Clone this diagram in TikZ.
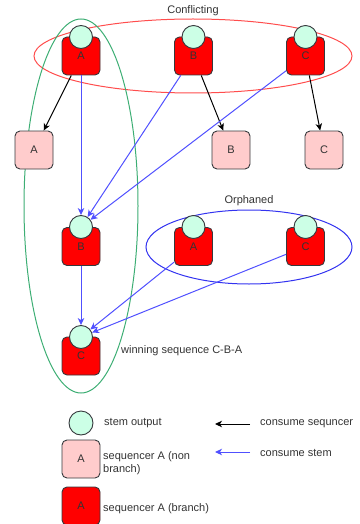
\documentclass[tikz,border=0pt]{standalone}
\usepackage{fontspec}
\setmainfont{Liberation Sans}
\usetikzlibrary{arrows.meta}
\definecolor{redfill}{HTML}{FF0000}
\definecolor{pinkfill}{HTML}{FFCCCC}
\definecolor{mint}{HTML}{CCFFE6}
\definecolor{strokec}{HTML}{36393D}
\definecolor{redell}{HTML}{FF4D4D}
\definecolor{greenell}{HTML}{3DAE74}
\definecolor{bluearr}{HTML}{5050FF}
\definecolor{blueell}{HTML}{3333F0}
\definecolor{txt}{HTML}{333333}
\tikzset{
  base/.style={font=\fontsize{11}{13}\selectfont, text=txt},
  branchbox/.style={base, draw=strokec, fill=redfill, rounded corners=5pt, minimum width=38pt, minimum height=38pt, inner sep=0pt, line width=0.9pt},
  plainbox/.style={base, draw=strokec, fill=pinkfill, rounded corners=5pt, minimum width=38pt, minimum height=38pt, inner sep=0pt, line width=0.9pt},
  stem/.style={circle, draw=strokec, fill=mint, minimum size=23pt, inner sep=0pt, line width=0.9pt},
  lbl/.style={base, inner sep=0pt},
  seqarr/.style={draw=black, line width=1pt, -{Stealth[length=7pt,width=6.5pt,inset=2pt]}},
  stemarr/.style={draw=bluearr, line width=1pt, -{Stealth[length=7pt,width=6.5pt,inset=2pt]}},
  grp/.style={line width=1pt}
}
\begin{document}
\begin{tikzpicture}[x=1pt,y=-1pt]
\useasboundingbox (0,0) rectangle (359,524);
% group ellipses
\draw[grp, draw=redell] (193,56) ellipse [x radius=159, y radius=37];
\draw[grp, draw=greenell] (81,206) ellipse [x radius=57, y radius=187];
\draw[grp, draw=blueell] (249,247) ellipse [x radius=103, y radius=37];
\node[lbl] (conf) at (193,11) {Conflicting};
\node[lbl] (orph) at (249,201) {Orphaned};
% top row
\node[branchbox] (tA) at (81,56) {A};
\node[branchbox] (tB) at (193.5,56) {B};
\node[branchbox] (tC) at (305.5,56) {C};
\node[stem] (tAc) at (81,37) {};
\node[stem] (tBc) at (193.5,37) {};
\node[stem] (tCc) at (305.5,37) {};
% pink row
\node[plainbox] (pA) at (34,150) {A};
\node[plainbox] (pB) at (231,150) {B};
\node[plainbox] (pC) at (324,150) {C};
% middle
\node[branchbox] (mB) at (81,246.5) {B};
\node[stem] (mBc) at (81,227) {};
\node[branchbox] (oA) at (193.5,246.5) {A};
\node[stem] (oAc) at (193.5,227) {};
\node[branchbox] (oC) at (305.5,246.5) {C};
\node[stem] (oCc) at (305.5,227) {};
% bottom
\node[branchbox] (bC) at (81,356) {C};
\node[stem] (bCc) at (81,337) {};
\node[lbl, anchor=west] (win) at (121,351) {winning sequence C-B-A};
% black arrows
\draw[seqarr] (tA) -- (pA);
\draw[seqarr] (tB) -- (pB);
\draw[seqarr] (tC) -- (pC);
% blue arrows
\draw[stemarr] (tA) -- (mBc);
\draw[stemarr] (tB) -- (mBc);
\draw[stemarr] (tC) -- (mBc);
\draw[stemarr] (mB) -- (bCc);
\draw[stemarr] (oA) -- (bCc);
\draw[stemarr] (oC) -- (bCc);
% legend
\node[stem, minimum size=24pt] (lc) at (81,423) {};
\node[lbl, anchor=west] (lct) at (104,423) {stem output};
\node[plainbox] (lp) at (81,459) {A};
\node[lbl, anchor=west, align=left] (lpt) at (103,463.5) {sequencer A (non\\branch)};
\node[branchbox] (lr) at (81,506) {A};
\node[lbl, anchor=west] (lrt) at (103,509) {sequencer A (branch)};
\coordinate (k1s) at (250,424);
\coordinate (k1e) at (215,424);
\coordinate (k2s) at (250,452);
\coordinate (k2e) at (215,452);
\draw[seqarr] (k1s) -- (k1e);
\draw[stemarr] (k2s) -- (k2e);
\node[lbl, anchor=west] (k1t) at (260,424) {consume sequncer};
\node[lbl, anchor=west] (k2t) at (260,453) {consume stem};
\end{tikzpicture}
\end{document}
